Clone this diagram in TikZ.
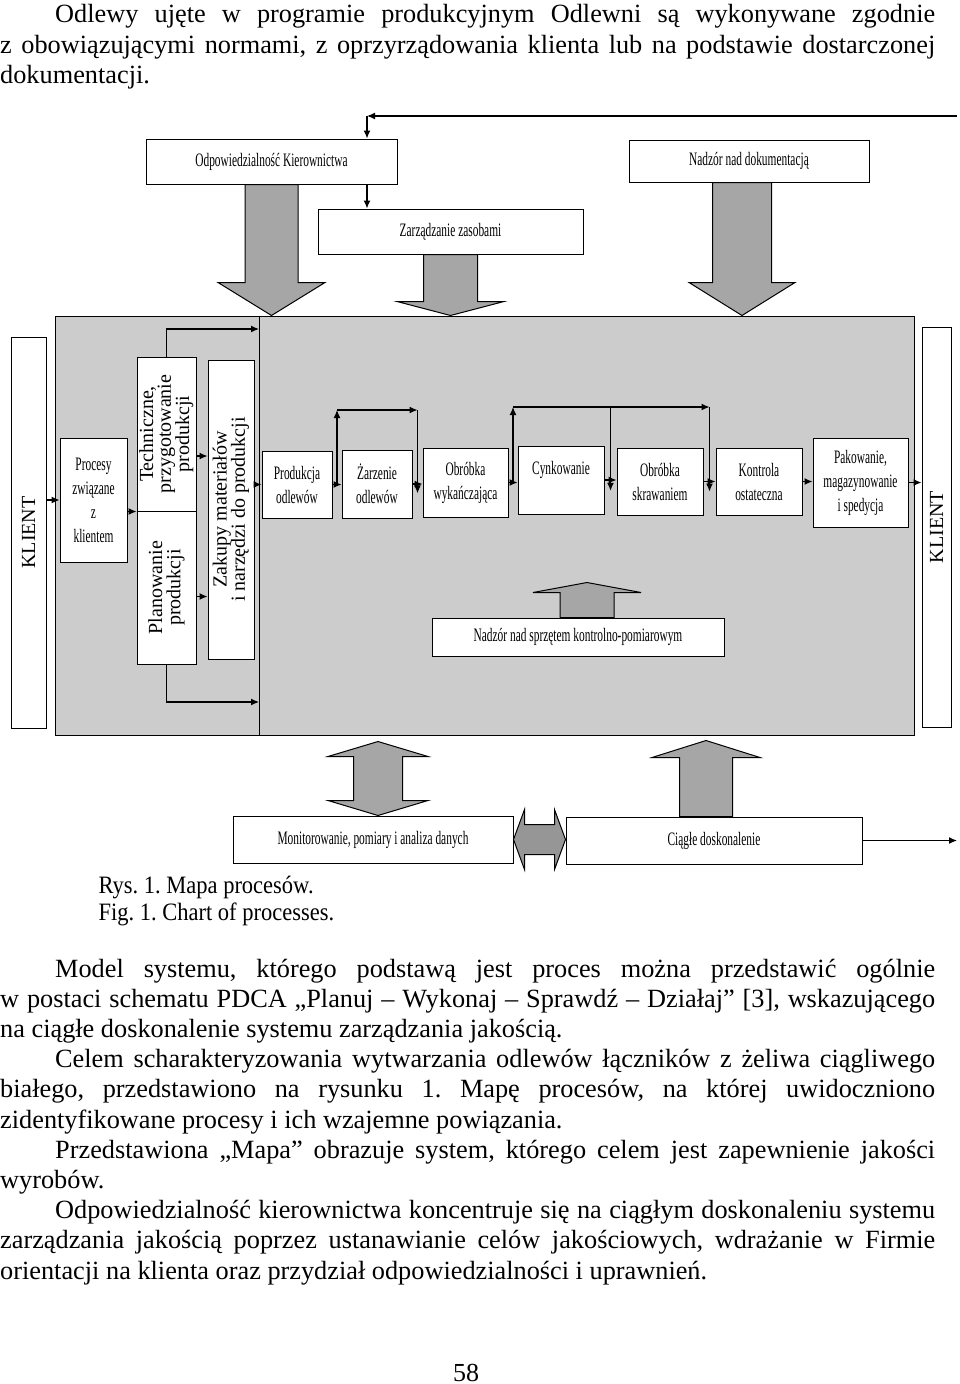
\documentclass[tikz,border=0pt]{standalone}
\usepackage{fontspec}
\setmainfont{Liberation Serif}
\newfontfamily\narrowfont[FakeStretch=0.6]{Liberation Serif}
\newfontfamily\capfont[FakeStretch=0.9]{Liberation Serif}
\usetikzlibrary{arrows.meta,calc,positioning}
\definecolor{framegray}{RGB}{204,204,204}
\definecolor{arrowgray}{RGB}{166,166,166}
\definecolor{linkgray}{RGB}{150,150,150}
\hyphenpenalty=10000
\frenchspacing

% upright text in the tall narrow boxes
\newcommand{\vtext}[1]{\rotatebox{90}{\begin{tabular}{@{}c@{}}#1\end{tabular}}}
% block arrow: start, tip, half shaft, half head, head length
\newcommand{\vblock}[5]{%
  \draw[blockarr] let \p1=#1, \p2=#2 in
    (\x1-#3,\y1) -- (\x1-#3,\y2+#5) -- (\x1-#4,\y2+#5) -- (\x1,\y2)
    -- (\x1+#4,\y2+#5) -- (\x1+#3,\y2+#5) -- (\x1+#3,\y1) -- cycle;}

\begin{document}
\begin{tikzpicture}[x=1pt,y=-1pt,
  box/.style={draw, line width=1pt, fill=white, align=center, inner sep=0pt,
    font=\narrowfont\fontsize{19}{24}\selectfont},
  vbox/.style={box, font=\fontsize{20}{15}\selectfont},
  conn/.style={line width=1.2pt, -{Latex[length=8pt,width=7pt]}},
  blockarr/.style={draw, line width=1pt, fill=arrowgray},
  bodytext/.style={inner sep=0pt, text width=935pt, align=justify,
    font=\fontsize{26.3}{30.2}\selectfont},
]
\useasboundingbox (0,0) rectangle (960,1384);

% text of the page
\node[bodytext, font=\fontsize{26.3}{30.5}\selectfont, anchor=base west] (intro) at (0,22.5) {\hspace*{55pt}Odlewy ujęte w programie produkcyjnym Odlewni są wykonywane zgodnie\linebreak z obowiązującymi normami, z oprzyrządowania klienta lub na podstawie dostarczonej\linebreak dokumentacji.};

% management
\node[box, minimum width=251, minimum height=45] (odp) at (271.5,161.5) {Odpowiedzialność Kierownictwa};
\node[box, minimum width=240, minimum height=42] (nadzdok) at (749,161) {Nadzór nad dokumentacją};
\node[box, minimum width=265, minimum height=45] (zasoby) at (450.5,231.5) {Zarządzanie zasobami};

\coordinate (fbR) at (957,116);
\coordinate (fbL) at (367,116);
\draw[conn] (fbR) -- (fbL);
\draw[conn] (fbL) -- (fbL |- odp.north);
\draw[conn] (fbL |- odp.south) -- (fbL |- zasoby.north);

% main frame
\node[draw, line width=1pt, fill=framegray, minimum width=859, minimum height=419, inner sep=0pt] (frame) at (484.5,525.5) {};
\coordinate (dtop) at (259,329);
\coordinate (dbot) at (259,702);
\draw[line width=0.8pt] (frame.north -| dtop) -- (frame.south -| dtop);

\vblock{(odp.south)}{(odp.south |- frame.north)}{26.5pt}{53.5pt}{33pt}
\vblock{(zasoby.south)}{(zasoby.south |- frame.north)}{27pt}{53.5pt}{14pt}
\vblock{([xshift=-7pt]nadzdok.south)}{([xshift=-7pt]nadzdok.south |- frame.north)}{29.5pt}{53pt}{33pt}

% clients
\node[box, font=\fontsize{20}{24}\selectfont, minimum width=35, minimum height=391] (klientL) at (28.5,532.5) {\rotatebox{90}{KLIENT}};
\node[box, font=\fontsize{20}{24}\selectfont, minimum width=29, minimum height=400] (klientR) at (936.5,527) {\rotatebox{90}{KLIENT}};

% preparation
\node[box, minimum width=67, minimum height=124] (procesy) at (93.5,500) {Procesy\\związane\\z\\klientem};
\node[vbox, minimum width=59, minimum height=154] (tech) at (166.5,434) {\vtext{Techniczne,\\przygotowanie\\produkcji}};
\node[vbox, minimum width=59, minimum height=153] (plan) at (166.5,587.5) {\vtext{Planowanie\\produkcji}};
\node[vbox, minimum width=46, minimum height=299] (zakupy) at (231,509.5) {\vtext{Zakupy materiałów\\i narzędzi do produkcji}};

% production line
\node[box, minimum width=70, minimum height=67] (prod) at (297,484.5) {Produkcja\\odlewów};
\node[box, minimum width=70, minimum height=68] (zarz) at (377,484) {Żarzenie\\odlewów};
\node[box, minimum width=85, minimum height=69] (obrwyk) at (465.5,482.5) {Obróbka\\wykańczająca};
\node[box, minimum width=86, minimum height=68] (cynk) at (561,480) {Cynkowanie\\\mbox{}};
\node[box, minimum width=86, minimum height=67] (obrskr) at (660,481.5) {Obróbka\\skrawaniem};
\node[box, minimum width=86, minimum height=67] (kontr) at (759,481.5) {Kontrola\\ostateczna};
\node[box, minimum width=95, minimum height=89] (pakow) at (860.5,482.5) {Pakowanie,\\magazynowanie\\i spedycja};
\node[box, minimum width=292, minimum height=38] (sprzet) at (578,637) {Nadzór nad sprzętem kontrolno-pomiarowym};

\draw[conn] (klientL.east |- procesy.west) -- (procesy.west);
\draw[conn] (procesy.east |- tech.south) -- (tech.south west);
\draw[conn] ([yshift=-22pt]tech.east) -- ([yshift=-22pt]tech.east -| zakupy.west);
\draw[conn] ([yshift=-9pt]plan.east) -- ([yshift=-9pt]plan.east -| zakupy.west);
\draw[conn] (tech.north) |- (dtop);
\draw[conn] (plan.south) |- (dbot);
\draw[conn] (zakupy.east |- prod.west) -- (prod.west);
\draw[conn] (prod.east) -- (prod.east -| zarz.west);
\draw[conn] (zarz.east) -- (zarz.east -| obrwyk.west);
\draw[conn] (obrwyk.east) -- (obrwyk.east -| cynk.west);
\draw[conn] (cynk.east) -- (cynk.east -| obrskr.west);
\draw[conn] (obrskr.east) -- (obrskr.east -| kontr.west);
\draw[conn] (kontr.east) -- (kontr.east -| pakow.west);
\draw[conn] (pakow.east) -- (pakow.east -| klientR.west);

% bypasses over the line
\coordinate (lvlA) at (0,410);
\coordinate (lvlB) at (0,407);
\coordinate (g1) at ($(prod.east)!.5!(zarz.west)$);
\coordinate (g2) at ($(zarz.east)!.5!(obrwyk.west)$);
\coordinate (g3) at ($(obrwyk.east)!.5!(cynk.west)$);
\coordinate (g4) at ($(cynk.east)!.5!(obrskr.west)$);
\coordinate (g5) at ($(obrskr.east)!.5!(kontr.west)$);
\draw[conn] (g1) -- (g1 |- lvlA);
\draw[conn] (g1 |- lvlA) -- (g2 |- lvlA);
\draw[conn] (g2 |- lvlA) -- ([yshift=-10pt]g2);
\draw[conn] (g3) -- (g3 |- lvlB);
\draw[conn] (g3 |- lvlB) -- (g5 |- lvlB);
\draw[conn] (g4 |- lvlB) -- ([yshift=-10pt]g4);
\draw[conn] (g5 |- lvlB) -- ([yshift=-10pt]g5);

\vblock{([xshift=9pt]sprzet.north)}{([xshift=9pt,yshift=35pt]sprzet.north)}{27pt}{54pt}{-10pt}

% measurement and improvement
\node[box, minimum width=280, minimum height=47] (monit) at (373,839.5) {Monitorowanie, pomiary i analiza danych};
\node[box, minimum width=296, minimum height=47] (ciagle) at (714,840.5) {Ciągłe doskonalenie};

\draw[blockarr] let \p1=([xshift=5pt]monit.north), \p2=([xshift=5pt,yshift=-6pt]monit.north |- frame.south) in
  (\x1,\y1) -- (\x1+50pt,\y1+15pt) -- (\x1+24.5pt,\y1+15pt) -- (\x1+24.5pt,\y2-15pt)
  -- (\x1+50pt,\y2-15pt) -- (\x1,\y2) -- (\x1-50pt,\y2-15pt) -- (\x1-24.5pt,\y2-15pt)
  -- (\x1-24.5pt,\y1+15pt) -- (\x1-50pt,\y1+15pt) -- cycle;
\draw[blockarr, fill=linkgray] let \p1=(monit.east), \p2=(ciagle.west |- monit.east) in
  (\x1,\y1) -- (\x1+11pt,\y1+30pt) -- (\x1+11pt,\y1+15pt) -- (\x2-11pt,\y1+15pt)
  -- (\x2-11pt,\y1+30pt) -- (\x2,\y1) -- (\x2-11pt,\y1-30pt) -- (\x2-11pt,\y1-15pt)
  -- (\x1+11pt,\y1-15pt) -- (\x1+11pt,\y1-30pt) -- cycle;
\vblock{([xshift=-8pt]ciagle.north)}{([xshift=-8pt,yshift=-5pt]ciagle.north |- frame.south)}{26.5pt}{54pt}{-17pt}
\draw[conn] (ciagle.east) -- (fbR |- ciagle.east);

% caption
\node[anchor=base west, font=\capfont\fontsize{25}{30}\selectfont] (rys) at (95,893) {Rys. 1. Mapa procesów.};
\node[anchor=base west, font=\capfont\fontsize{25}{30}\selectfont] (fig) at (95,920) {Fig. 1. Chart of processes.};

\node[bodytext, anchor=base west] (body) at (0,977) {\hspace*{55pt}Model systemu, którego podstawą jest proces można przedstawić ogólnie\linebreak w postaci schematu PDCA „Planuj – Wykonaj – Sprawdź – Działaj” [3], wskazującego\linebreak na ciągłe doskonalenie systemu zarządzania jakością.\par
\hspace*{55pt}Celem scharakteryzowania wytwarzania odlewów łączników z żeliwa ciągliwego\linebreak białego, przedstawiono na rysunku 1. Mapę procesów, na której uwidoczniono\linebreak zidentyfikowane procesy i ich wzajemne powiązania.\par
\hspace*{55pt}Przedstawiona „Mapa” obrazuje system, którego celem jest zapewnienie jakości\linebreak wyrobów.\par
\hspace*{55pt}Odpowiedzialność kierownictwa koncentruje się na ciągłym doskonaleniu systemu\linebreak zarządzania jakością poprzez ustanawianie celów jakościowych, wdrażanie w Firmie\linebreak orientacji na klienta oraz przydział odpowiedzialności i uprawnień.};

\node[anchor=base, font=\fontsize{26}{30}\selectfont] (pagenum) at (466,1381) {58};
\end{tikzpicture}
\end{document}
